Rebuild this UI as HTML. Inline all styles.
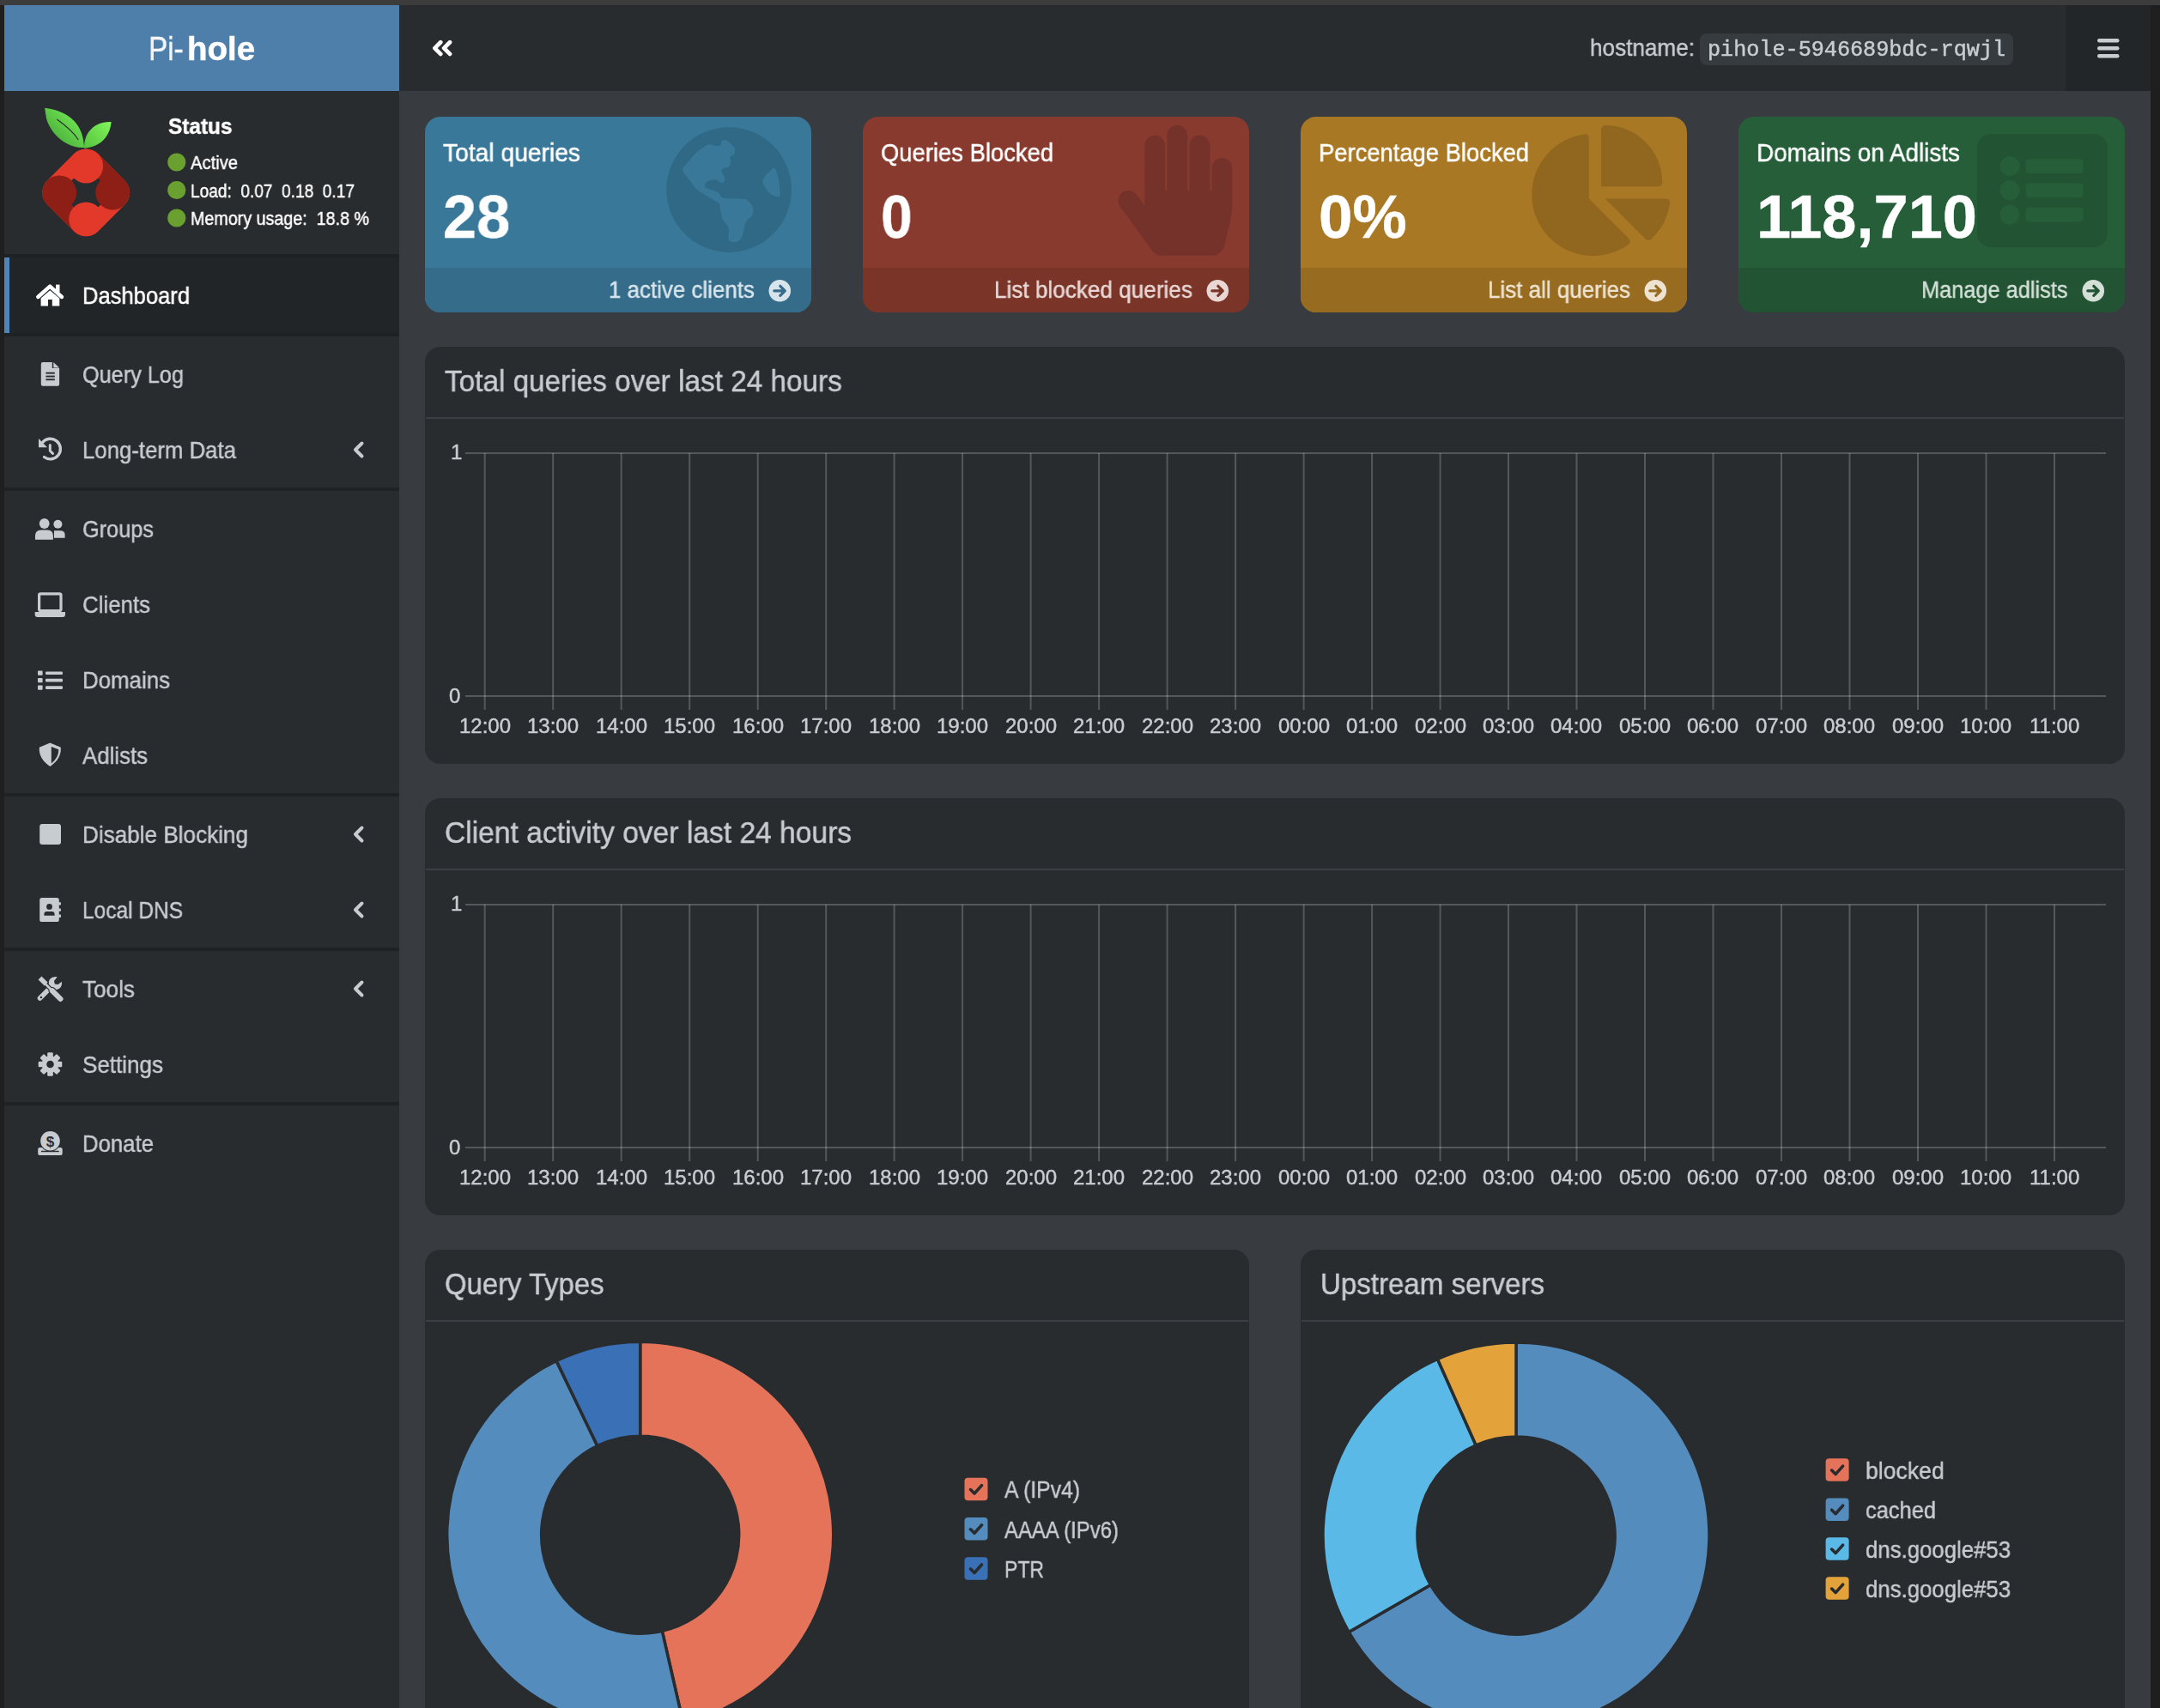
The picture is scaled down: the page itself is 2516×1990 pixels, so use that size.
<!DOCTYPE html>
<html><head><meta charset="utf-8"><title>Pi-hole Dashboard</title>
<style>
html,body{margin:0;padding:0;width:2516px;height:1990px;overflow:hidden;background:#383c40;}
.r{position:absolute;}
.t{position:absolute;z-index:2;line-height:1;white-space:nowrap;transform-origin:0 0;will-change:transform;-webkit-text-stroke:0.45px currentColor;}
svg.ov{position:absolute;left:0;top:0;z-index:1;}
</style></head><body>
<div class="r" style="left:0px;top:0px;width:2516px;height:6px;background:#3c3c3c;"></div>
<div class="r" style="left:0px;top:6px;width:5px;height:1984px;background:#1f1f1f;"></div>
<div class="r" style="left:2505px;top:6px;width:11px;height:1984px;background:#1e1e1e;"></div>
<div class="r" style="left:5px;top:6px;width:460px;height:100px;background:#4e7fab;"></div>
<div class="t" style="left:173.00px;top:38.41px;font-size:38.5px;font-weight:normal;color:rgba(255,255,255,0.93);transform:scaleX(0.8644);font-family:'Liberation Sans', sans-serif">Pi-</div>
<div class="t" style="left:217.50px;top:38.41px;font-size:38.5px;font-weight:bold;color:#fff;font-family:'Liberation Sans', sans-serif">hole</div>
<div class="r" style="left:465px;top:6px;width:2040px;height:100px;background:#282c2f;"></div>
<div class="r" style="left:2406px;top:6px;width:99px;height:100px;background:#232629;"></div>
<div class="t" style="left:1851.60px;top:42.30px;font-size:28px;font-weight:normal;color:#c8cdd1;transform:scaleX(0.9330);font-family:'Liberation Sans', sans-serif">hostname:</div>
<div class="r" style="left:1980px;top:39px;width:365px;height:37px;background:#363b40;border-radius:8px;"></div>
<div class="t" style="left:1989.00px;top:45.64px;font-size:25px;font-weight:normal;color:#c8cdd1;transform:scaleX(1.0058);font-family:'Liberation Mono', monospace">pihole-5946689bdc-rqwjl</div>
<div class="r" style="left:5px;top:106px;width:460px;height:1884px;background:#282c2f;"></div>
<div class="r" style="left:5px;top:296px;width:460px;height:4px;background:#1f2225;"></div>
<div class="t" style="left:195.50px;top:134.29px;font-size:26px;font-weight:bold;color:#fff;transform:scaleX(0.9379);font-family:'Liberation Sans', sans-serif">Status</div>
<div class="t" style="left:221.50px;top:179.38px;font-size:22px;font-weight:normal;color:#fff;transform:scaleX(0.9174);font-family:'Liberation Sans', sans-serif">Active</div>
<div class="t" style="left:221.50px;top:211.88px;font-size:22px;font-weight:normal;color:#fff;transform:scaleX(0.8673);font-family:'Liberation Sans', sans-serif">Load:&nbsp;&nbsp;0.07&nbsp;&nbsp;0.18&nbsp;&nbsp;0.17</div>
<div class="t" style="left:221.50px;top:244.38px;font-size:22px;font-weight:normal;color:#fff;transform:scaleX(0.8953);font-family:'Liberation Sans', sans-serif">Memory&nbsp;usage:&nbsp;&nbsp;18.8&nbsp;%</div>
<div class="r" style="left:5px;top:300px;width:460px;height:88px;background:#222528;"></div>
<div class="r" style="left:5px;top:300px;width:6px;height:88px;background:#4f86b9;"></div>
<div class="t" style="left:96.00px;top:330.90px;font-size:28px;font-weight:normal;color:#fff;transform:scaleX(0.9129);font-family:'Liberation Sans', sans-serif">Dashboard</div>
<div class="r" style="left:5px;top:388px;width:460px;height:4px;background:#1f2225;"></div>
<div class="t" style="left:96.00px;top:422.90px;font-size:28px;font-weight:normal;color:#c7ccd1;transform:scaleX(0.9024);font-family:'Liberation Sans', sans-serif">Query Log</div>
<div class="t" style="left:96.00px;top:510.90px;font-size:28px;font-weight:normal;color:#c7ccd1;transform:scaleX(0.9198);font-family:'Liberation Sans', sans-serif">Long-term Data</div>
<div class="r" style="left:5px;top:568px;width:460px;height:4px;background:#1f2225;"></div>
<div class="t" style="left:96.00px;top:602.90px;font-size:28px;font-weight:normal;color:#c7ccd1;transform:scaleX(0.9037);font-family:'Liberation Sans', sans-serif">Groups</div>
<div class="t" style="left:96.00px;top:690.90px;font-size:28px;font-weight:normal;color:#c7ccd1;transform:scaleX(0.9235);font-family:'Liberation Sans', sans-serif">Clients</div>
<div class="t" style="left:96.00px;top:778.90px;font-size:28px;font-weight:normal;color:#c7ccd1;transform:scaleX(0.9234);font-family:'Liberation Sans', sans-serif">Domains</div>
<div class="t" style="left:96.00px;top:866.90px;font-size:28px;font-weight:normal;color:#c7ccd1;transform:scaleX(0.9217);font-family:'Liberation Sans', sans-serif">Adlists</div>
<div class="r" style="left:5px;top:924px;width:460px;height:4px;background:#1f2225;"></div>
<div class="t" style="left:96.00px;top:958.90px;font-size:28px;font-weight:normal;color:#c7ccd1;transform:scaleX(0.9321);font-family:'Liberation Sans', sans-serif">Disable Blocking</div>
<div class="t" style="left:96.00px;top:1046.90px;font-size:28px;font-weight:normal;color:#c7ccd1;transform:scaleX(0.8742);font-family:'Liberation Sans', sans-serif">Local DNS</div>
<div class="r" style="left:5px;top:1104px;width:460px;height:4px;background:#1f2225;"></div>
<div class="t" style="left:96.00px;top:1138.90px;font-size:28px;font-weight:normal;color:#c7ccd1;transform:scaleX(0.9330);font-family:'Liberation Sans', sans-serif">Tools</div>
<div class="t" style="left:96.00px;top:1226.90px;font-size:28px;font-weight:normal;color:#c7ccd1;transform:scaleX(0.9287);font-family:'Liberation Sans', sans-serif">Settings</div>
<div class="r" style="left:5px;top:1284px;width:460px;height:4px;background:#1f2225;"></div>
<div class="t" style="left:96.00px;top:1318.90px;font-size:28px;font-weight:normal;color:#c7ccd1;transform:scaleX(0.9192);font-family:'Liberation Sans', sans-serif">Donate</div>
<div class="r" style="left:465px;top:106px;width:2040px;height:1884px;background:#383c40;"></div>
<div class="r" style="left:495px;top:136px;width:450px;height:228px;border-radius:18px;overflow:hidden;background:#3a7899"><div style="position:absolute;left:0;top:176px;width:450px;height:52px;background:#346c8a"></div></div>
<div class="t" style="left:516.00px;top:162.91px;font-size:30px;font-weight:normal;color:#fff;transform:scaleX(0.9406);font-family:'Liberation Sans', sans-serif">Total queries</div>
<div class="t" style="left:515.50px;top:217.40px;font-size:71px;font-weight:bold;color:#fff;transform:scaleX(0.9897);font-family:'Liberation Sans', sans-serif">28</div>
<div class="t" style="left:708.60px;top:325.14px;font-size:27px;font-weight:normal;color:#d8e4eb;transform:scaleX(0.9598);font-family:'Liberation Sans', sans-serif">1 active clients</div>
<div class="r" style="left:1005px;top:136px;width:450px;height:228px;border-radius:18px;overflow:hidden;background:#873a2d"><div style="position:absolute;left:0;top:176px;width:450px;height:52px;background:#7a3428"></div></div>
<div class="t" style="left:1026.00px;top:162.91px;font-size:30px;font-weight:normal;color:#fff;transform:scaleX(0.9134);font-family:'Liberation Sans', sans-serif">Queries Blocked</div>
<div class="t" style="left:1025.50px;top:217.40px;font-size:71px;font-weight:bold;color:#fff;transform:scaleX(0.9288);font-family:'Liberation Sans', sans-serif">0</div>
<div class="t" style="left:1157.60px;top:325.14px;font-size:27px;font-weight:normal;color:#e8d7d4;transform:scaleX(0.9678);font-family:'Liberation Sans', sans-serif">List blocked queries</div>
<div class="r" style="left:1515px;top:136px;width:450px;height:228px;border-radius:18px;overflow:hidden;background:#a87824"><div style="position:absolute;left:0;top:176px;width:450px;height:52px;background:#976c21"></div></div>
<div class="t" style="left:1536.00px;top:162.91px;font-size:30px;font-weight:normal;color:#fff;transform:scaleX(0.9125);font-family:'Liberation Sans', sans-serif">Percentage Blocked</div>
<div class="t" style="left:1535.50px;top:217.40px;font-size:71px;font-weight:bold;color:#fff;font-family:'Liberation Sans', sans-serif">0%</div>
<div class="t" style="left:1732.60px;top:325.14px;font-size:27px;font-weight:normal;color:#eee3d0;transform:scaleX(0.9622);font-family:'Liberation Sans', sans-serif">List all queries</div>
<div class="r" style="left:2025px;top:136px;width:450px;height:228px;border-radius:18px;overflow:hidden;background:#265e39"><div style="position:absolute;left:0;top:176px;width:450px;height:52px;background:#225433"></div></div>
<div class="t" style="left:2046.00px;top:162.91px;font-size:30px;font-weight:normal;color:#fff;transform:scaleX(0.9289);font-family:'Liberation Sans', sans-serif">Domains on Adlists</div>
<div class="t" style="left:2045.50px;top:217.40px;font-size:71px;font-weight:bold;color:#fff;transform:scaleX(1.0168);font-family:'Liberation Sans', sans-serif">118,710</div>
<div class="t" style="left:2238.00px;top:325.14px;font-size:27px;font-weight:normal;color:#d3dfd7;transform:scaleX(0.9396);font-family:'Liberation Sans', sans-serif">Manage adlists</div>
<div class="r" style="left:495px;top:404px;width:1980px;height:485.6px;border-radius:18px;background:#282c2f"></div>
<div class="t" style="left:518.00px;top:425.87px;font-size:35px;font-weight:normal;color:#c8cdd1;transform:scaleX(0.9514);font-family:'Liberation Sans', sans-serif">Total queries over last 24 hours</div>
<div class="r" style="left:496px;top:486px;width:1978px;height:2px;background:#3a3f44;"></div>
<div class="t" style="left:524.50px;top:515.28px;font-size:24px;font-weight:normal;color:#c8cdd1;font-family:'Liberation Sans', sans-serif">1</div>
<div class="t" style="left:523.00px;top:799.08px;font-size:24px;font-weight:normal;color:#c8cdd1;font-family:'Liberation Sans', sans-serif">0</div>
<div class="t" style="left:534.64px;top:834.38px;font-size:24px;font-weight:normal;color:#c8cdd1;font-family:'Liberation Sans', sans-serif">12:00</div>
<div class="t" style="left:614.13px;top:834.38px;font-size:24px;font-weight:normal;color:#c8cdd1;font-family:'Liberation Sans', sans-serif">13:00</div>
<div class="t" style="left:693.62px;top:834.38px;font-size:24px;font-weight:normal;color:#c8cdd1;font-family:'Liberation Sans', sans-serif">14:00</div>
<div class="t" style="left:773.11px;top:834.38px;font-size:24px;font-weight:normal;color:#c8cdd1;font-family:'Liberation Sans', sans-serif">15:00</div>
<div class="t" style="left:852.60px;top:834.38px;font-size:24px;font-weight:normal;color:#c8cdd1;font-family:'Liberation Sans', sans-serif">16:00</div>
<div class="t" style="left:932.09px;top:834.38px;font-size:24px;font-weight:normal;color:#c8cdd1;font-family:'Liberation Sans', sans-serif">17:00</div>
<div class="t" style="left:1011.58px;top:834.38px;font-size:24px;font-weight:normal;color:#c8cdd1;font-family:'Liberation Sans', sans-serif">18:00</div>
<div class="t" style="left:1091.07px;top:834.38px;font-size:24px;font-weight:normal;color:#c8cdd1;font-family:'Liberation Sans', sans-serif">19:00</div>
<div class="t" style="left:1170.56px;top:834.38px;font-size:24px;font-weight:normal;color:#c8cdd1;font-family:'Liberation Sans', sans-serif">20:00</div>
<div class="t" style="left:1250.05px;top:834.38px;font-size:24px;font-weight:normal;color:#c8cdd1;font-family:'Liberation Sans', sans-serif">21:00</div>
<div class="t" style="left:1329.54px;top:834.38px;font-size:24px;font-weight:normal;color:#c8cdd1;font-family:'Liberation Sans', sans-serif">22:00</div>
<div class="t" style="left:1409.03px;top:834.38px;font-size:24px;font-weight:normal;color:#c8cdd1;font-family:'Liberation Sans', sans-serif">23:00</div>
<div class="t" style="left:1488.52px;top:834.38px;font-size:24px;font-weight:normal;color:#c8cdd1;font-family:'Liberation Sans', sans-serif">00:00</div>
<div class="t" style="left:1568.01px;top:834.38px;font-size:24px;font-weight:normal;color:#c8cdd1;font-family:'Liberation Sans', sans-serif">01:00</div>
<div class="t" style="left:1647.50px;top:834.38px;font-size:24px;font-weight:normal;color:#c8cdd1;font-family:'Liberation Sans', sans-serif">02:00</div>
<div class="t" style="left:1726.99px;top:834.38px;font-size:24px;font-weight:normal;color:#c8cdd1;font-family:'Liberation Sans', sans-serif">03:00</div>
<div class="t" style="left:1806.48px;top:834.38px;font-size:24px;font-weight:normal;color:#c8cdd1;font-family:'Liberation Sans', sans-serif">04:00</div>
<div class="t" style="left:1885.97px;top:834.38px;font-size:24px;font-weight:normal;color:#c8cdd1;font-family:'Liberation Sans', sans-serif">05:00</div>
<div class="t" style="left:1965.46px;top:834.38px;font-size:24px;font-weight:normal;color:#c8cdd1;font-family:'Liberation Sans', sans-serif">06:00</div>
<div class="t" style="left:2044.95px;top:834.38px;font-size:24px;font-weight:normal;color:#c8cdd1;font-family:'Liberation Sans', sans-serif">07:00</div>
<div class="t" style="left:2124.44px;top:834.38px;font-size:24px;font-weight:normal;color:#c8cdd1;font-family:'Liberation Sans', sans-serif">08:00</div>
<div class="t" style="left:2203.93px;top:834.38px;font-size:24px;font-weight:normal;color:#c8cdd1;font-family:'Liberation Sans', sans-serif">09:00</div>
<div class="t" style="left:2283.42px;top:834.38px;font-size:24px;font-weight:normal;color:#c8cdd1;font-family:'Liberation Sans', sans-serif">10:00</div>
<div class="t" style="left:2363.81px;top:834.38px;font-size:24px;font-weight:normal;color:#c8cdd1;font-family:'Liberation Sans', sans-serif">11:00</div>
<div class="r" style="left:495px;top:930px;width:1980px;height:485.6px;border-radius:18px;background:#282c2f"></div>
<div class="t" style="left:518.00px;top:951.87px;font-size:35px;font-weight:normal;color:#c8cdd1;transform:scaleX(0.9595);font-family:'Liberation Sans', sans-serif">Client activity over last 24 hours</div>
<div class="r" style="left:496px;top:1012px;width:1978px;height:2px;background:#3a3f44;"></div>
<div class="t" style="left:524.50px;top:1041.28px;font-size:24px;font-weight:normal;color:#c8cdd1;font-family:'Liberation Sans', sans-serif">1</div>
<div class="t" style="left:523.00px;top:1325.08px;font-size:24px;font-weight:normal;color:#c8cdd1;font-family:'Liberation Sans', sans-serif">0</div>
<div class="t" style="left:534.64px;top:1360.38px;font-size:24px;font-weight:normal;color:#c8cdd1;font-family:'Liberation Sans', sans-serif">12:00</div>
<div class="t" style="left:614.13px;top:1360.38px;font-size:24px;font-weight:normal;color:#c8cdd1;font-family:'Liberation Sans', sans-serif">13:00</div>
<div class="t" style="left:693.62px;top:1360.38px;font-size:24px;font-weight:normal;color:#c8cdd1;font-family:'Liberation Sans', sans-serif">14:00</div>
<div class="t" style="left:773.11px;top:1360.38px;font-size:24px;font-weight:normal;color:#c8cdd1;font-family:'Liberation Sans', sans-serif">15:00</div>
<div class="t" style="left:852.60px;top:1360.38px;font-size:24px;font-weight:normal;color:#c8cdd1;font-family:'Liberation Sans', sans-serif">16:00</div>
<div class="t" style="left:932.09px;top:1360.38px;font-size:24px;font-weight:normal;color:#c8cdd1;font-family:'Liberation Sans', sans-serif">17:00</div>
<div class="t" style="left:1011.58px;top:1360.38px;font-size:24px;font-weight:normal;color:#c8cdd1;font-family:'Liberation Sans', sans-serif">18:00</div>
<div class="t" style="left:1091.07px;top:1360.38px;font-size:24px;font-weight:normal;color:#c8cdd1;font-family:'Liberation Sans', sans-serif">19:00</div>
<div class="t" style="left:1170.56px;top:1360.38px;font-size:24px;font-weight:normal;color:#c8cdd1;font-family:'Liberation Sans', sans-serif">20:00</div>
<div class="t" style="left:1250.05px;top:1360.38px;font-size:24px;font-weight:normal;color:#c8cdd1;font-family:'Liberation Sans', sans-serif">21:00</div>
<div class="t" style="left:1329.54px;top:1360.38px;font-size:24px;font-weight:normal;color:#c8cdd1;font-family:'Liberation Sans', sans-serif">22:00</div>
<div class="t" style="left:1409.03px;top:1360.38px;font-size:24px;font-weight:normal;color:#c8cdd1;font-family:'Liberation Sans', sans-serif">23:00</div>
<div class="t" style="left:1488.52px;top:1360.38px;font-size:24px;font-weight:normal;color:#c8cdd1;font-family:'Liberation Sans', sans-serif">00:00</div>
<div class="t" style="left:1568.01px;top:1360.38px;font-size:24px;font-weight:normal;color:#c8cdd1;font-family:'Liberation Sans', sans-serif">01:00</div>
<div class="t" style="left:1647.50px;top:1360.38px;font-size:24px;font-weight:normal;color:#c8cdd1;font-family:'Liberation Sans', sans-serif">02:00</div>
<div class="t" style="left:1726.99px;top:1360.38px;font-size:24px;font-weight:normal;color:#c8cdd1;font-family:'Liberation Sans', sans-serif">03:00</div>
<div class="t" style="left:1806.48px;top:1360.38px;font-size:24px;font-weight:normal;color:#c8cdd1;font-family:'Liberation Sans', sans-serif">04:00</div>
<div class="t" style="left:1885.97px;top:1360.38px;font-size:24px;font-weight:normal;color:#c8cdd1;font-family:'Liberation Sans', sans-serif">05:00</div>
<div class="t" style="left:1965.46px;top:1360.38px;font-size:24px;font-weight:normal;color:#c8cdd1;font-family:'Liberation Sans', sans-serif">06:00</div>
<div class="t" style="left:2044.95px;top:1360.38px;font-size:24px;font-weight:normal;color:#c8cdd1;font-family:'Liberation Sans', sans-serif">07:00</div>
<div class="t" style="left:2124.44px;top:1360.38px;font-size:24px;font-weight:normal;color:#c8cdd1;font-family:'Liberation Sans', sans-serif">08:00</div>
<div class="t" style="left:2203.93px;top:1360.38px;font-size:24px;font-weight:normal;color:#c8cdd1;font-family:'Liberation Sans', sans-serif">09:00</div>
<div class="t" style="left:2283.42px;top:1360.38px;font-size:24px;font-weight:normal;color:#c8cdd1;font-family:'Liberation Sans', sans-serif">10:00</div>
<div class="t" style="left:2363.81px;top:1360.38px;font-size:24px;font-weight:normal;color:#c8cdd1;font-family:'Liberation Sans', sans-serif">11:00</div>
<div class="r" style="left:495px;top:1456px;width:960px;height:600px;border-radius:18px;background:#282c2f"></div>
<div class="t" style="left:518.00px;top:1477.87px;font-size:35px;font-weight:normal;color:#c8cdd1;transform:scaleX(0.9386);font-family:'Liberation Sans', sans-serif">Query Types</div>
<div class="r" style="left:496px;top:1538px;width:958px;height:2px;background:#3a3f44;"></div>
<div class="r" style="left:1515px;top:1456px;width:960px;height:600px;border-radius:18px;background:#282c2f"></div>
<div class="t" style="left:1537.50px;top:1477.87px;font-size:35px;font-weight:normal;color:#c8cdd1;transform:scaleX(0.9451);font-family:'Liberation Sans', sans-serif">Upstream servers</div>
<div class="r" style="left:1516px;top:1538px;width:958px;height:2px;background:#3a3f44;"></div>
<div class="t" style="left:1169.80px;top:1722.30px;font-size:28px;font-weight:normal;color:#c8cdd1;transform:scaleX(0.8841);font-family:'Liberation Sans', sans-serif">A (IPv4)</div>
<div class="t" style="left:1169.80px;top:1768.50px;font-size:28px;font-weight:normal;color:#c8cdd1;transform:scaleX(0.8543);font-family:'Liberation Sans', sans-serif">AAAA (IPv6)</div>
<div class="t" style="left:1169.80px;top:1814.70px;font-size:28px;font-weight:normal;color:#c8cdd1;transform:scaleX(0.8214);font-family:'Liberation Sans', sans-serif">PTR</div>
<div class="t" style="left:2172.90px;top:1699.80px;font-size:28px;font-weight:normal;color:#c8cdd1;transform:scaleX(0.9507);font-family:'Liberation Sans', sans-serif">blocked</div>
<div class="t" style="left:2172.90px;top:1745.90px;font-size:28px;font-weight:normal;color:#c8cdd1;transform:scaleX(0.9081);font-family:'Liberation Sans', sans-serif">cached</div>
<div class="t" style="left:2172.90px;top:1791.80px;font-size:28px;font-weight:normal;color:#c8cdd1;transform:scaleX(0.9201);font-family:'Liberation Sans', sans-serif">dns.google#53</div>
<div class="t" style="left:2172.90px;top:1837.80px;font-size:28px;font-weight:normal;color:#c8cdd1;transform:scaleX(0.9201);font-family:'Liberation Sans', sans-serif">dns.google#53</div>
<svg class="ov" width="2516" height="1990" viewBox="0 0 2516 1990">
<path d="M513.2,49.3 L506.4,56.1 L513.2,62.9 M524,49.3 L517.2,56.1 L524,62.9" stroke="#fff" stroke-width="4.8" fill="none" stroke-linecap="round" stroke-linejoin="round"/>
<rect x="2443" y="45" width="25.5" height="4.4" rx="2.2" fill="#c8cdd2"/>
<rect x="2443" y="54" width="25.5" height="4.4" rx="2.2" fill="#c8cdd2"/>
<rect x="2443" y="63" width="25.5" height="4.4" rx="2.2" fill="#c8cdd2"/>
<defs><linearGradient id="lg" x1="0" y1="1" x2="1" y2="0"><stop offset="0" stop-color="#3f9e34"/><stop offset="1" stop-color="#7cf55a"/></linearGradient></defs>
<path d="M52.1,125.8 C64.8,127.4 77.4,131.5 86.9,141.6 C94.3,150 97.5,160 98,172 C91,172.4 84,170.5 77.4,166.9 C66,161 57.4,150 54,138 Z" fill="url(#lg)"/>
<path d="M66.4,139 C76,146 86,154 91.3,163" stroke="#282c2f" stroke-width="1.1" fill="none"/>
<path d="M129.6,142.1 C119.6,141.5 110.1,145 103.5,153.5 C99.5,159 98,165 98,172.7 C108,172 116.5,168.5 122.8,160.6 C127,155 129,149 129.6,142.1 Z" fill="url(#lg2)"/>
<defs><linearGradient id="lg2" x1="0" y1="1" x2="1" y2="0"><stop offset="0" stop-color="#56c23e"/><stop offset="1" stop-color="#80f65a"/></linearGradient><clipPath id="dia"><rect x="-41.9" y="-41.9" width="83.8" height="83.8" rx="20" transform="rotate(45)"/></clipPath></defs>
<g transform="translate(100.2,224.4)"><g clip-path="url(#dia)"><rect x="-60" y="-60" width="120" height="120" fill="#e2392a"/><path d="M0,-70 L70,0 L0,0 Z" fill="#8e1f17"/><path d="M0,70 L-70,0 L0,0 Z" fill="#8e1f17"/><path d="M0,-31 L31,0 L0,31 L-31,0 Z" fill="#282c2f"/><circle cx="0" cy="-31" r="20" fill="#e2392a"/><circle cx="31" cy="0" r="20" fill="#8e1f17"/><circle cx="0" cy="31" r="20" fill="#e2392a"/><circle cx="-31" cy="0" r="20" fill="#8e1f17"/></g></g>
<circle cx="205.8" cy="189.0" r="10.6" fill="#6aa030"/>
<circle cx="205.8" cy="221.5" r="10.6" fill="#6aa030"/>
<circle cx="205.8" cy="254.0" r="10.6" fill="#6aa030"/>
<path d="M421.5,516.5 L414,524 L421.5,531.5" stroke="#c7ccd1" stroke-width="4" fill="none" stroke-linecap="round" stroke-linejoin="round"/>
<path d="M421.5,964.5 L414,972 L421.5,979.5" stroke="#c7ccd1" stroke-width="4" fill="none" stroke-linecap="round" stroke-linejoin="round"/>
<path d="M421.5,1052.5 L414,1060 L421.5,1067.5" stroke="#c7ccd1" stroke-width="4" fill="none" stroke-linecap="round" stroke-linejoin="round"/>
<path d="M421.5,1144.5 L414,1152 L421.5,1159.5" stroke="#c7ccd1" stroke-width="4" fill="none" stroke-linecap="round" stroke-linejoin="round"/>
<path d="M44.3,346 L58.2,333.6 L72,346" stroke="#fff" stroke-width="4.4" fill="none" stroke-linecap="round" stroke-linejoin="round"/>
<rect x="65" y="331.6" width="4.5" height="9" fill="#fff"/>
<path d="M47.6,347.5 L58.2,338.2 L69.3,347.5 L69.3,356.4 L60.8,356.4 L60.8,349 L56,349 L56,356.4 L47.6,356.4 Z" fill="#fff"/>
<path d="M47.8,424 Q47.8,422 49.8,422 L60.8,422 L60.8,429 L69.1,429 L69.1,447.8 Q69.1,449.8 67.1,449.8 L49.8,449.8 Q47.8,449.8 47.8,447.8 Z" fill="#c7ccd1"/>
<path d="M62.3,422 L69.1,428.4 L62.3,428.4 Z" fill="#c7ccd1"/>
<rect x="53.4" y="433.7" width="10.4" height="1.9" fill="#282c2f"/>
<rect x="53.4" y="437.6" width="10.4" height="1.9" fill="#282c2f"/>
<rect x="53.4" y="441.3" width="10.4" height="1.9" fill="#282c2f"/>
<path d="M49.5,515.5 A11.8,11.8 0 1 1 51.5,532.5" stroke="#c7ccd1" stroke-width="3.4" fill="none" stroke-linecap="round"/>
<path d="M45,511 L45,521.3 L55,521.3 Z" fill="#c7ccd1"/>
<path d="M58.3,518.5 L58.3,525.2 L61.5,528.4" stroke="#c7ccd1" stroke-width="3" fill="none" stroke-linecap="round" stroke-linejoin="round"/>
<circle cx="51.7" cy="610" r="5.9" fill="#c7ccd1"/><path d="M41,628.7 L41,624 Q41,617.4 48,617.4 L55,617.4 Q61.9,617.4 61.9,624 L61.9,628.7 Z" fill="#c7ccd1"/>
<circle cx="67.4" cy="610.8" r="5" fill="#c7ccd1"/><path d="M63,626.7 L63,618.3 L70,618.3 Q75.6,618.3 75.6,623 L75.6,626.7 Z" fill="#c7ccd1"/>
<rect x="45.6" y="691.9" width="25.4" height="19.6" rx="1.5" stroke="#c7ccd1" stroke-width="3.2" fill="none"/>
<path d="M40.7,713 L76,713 L76,716 Q76,718.9 73,718.9 L43.7,718.9 Q40.7,718.9 40.7,716 Z" fill="#c7ccd1"/>
<rect x="44" y="781.6" width="5.6" height="5.2" rx="0.8" fill="#c7ccd1"/><rect x="53" y="782.4000000000001" width="20" height="3.6" rx="1.2" fill="#c7ccd1"/>
<rect x="44" y="790.0" width="5.6" height="5.2" rx="0.8" fill="#c7ccd1"/><rect x="53" y="790.8000000000001" width="20" height="3.6" rx="1.2" fill="#c7ccd1"/>
<rect x="44" y="798.5" width="5.6" height="5.2" rx="0.8" fill="#c7ccd1"/><rect x="53" y="799.3000000000001" width="20" height="3.6" rx="1.2" fill="#c7ccd1"/>
<path d="M58.3,865.6 L70.8,870.8 Q71.8,884 58.3,893 Q44.8,884 45.8,870.8 Z" fill="#c7ccd1"/>
<path d="M59.8,870 L68.3,873.3 Q68.3,883 59.8,889.5 Z" fill="#282c2f"/>
<rect x="46.2" y="960" width="24.8" height="24.1" rx="3" fill="#c7ccd1"/>
<rect x="46.2" y="1046" width="22.6" height="28" rx="2.6" fill="#c7ccd1"/>
<rect x="67" y="1051.2" width="4" height="3.4" rx="0.8" fill="#c7ccd1"/>
<rect x="67" y="1058.4" width="4" height="3.4" rx="0.8" fill="#c7ccd1"/>
<rect x="67" y="1065.4" width="4" height="3.6" rx="0.8" fill="#c7ccd1"/>
<circle cx="57.5" cy="1056.4" r="3.4" fill="#282c2f"/><path d="M51.4,1066.8 L51.4,1065 Q51.4,1062 54.5,1062 L60.5,1062 Q63.6,1062 63.6,1065 L63.6,1066.8 Z" fill="#282c2f"/>
<path d="M56.6,1146 C56.6,1142 58.5,1139.8 61,1138.8 C63,1138 65,1138 66.6,1138.2 L63,1142.9 L63.8,1146.5 L67.6,1147 L72,1143.7 C72.3,1147 71.5,1149.5 70,1151.1 C68.5,1152.5 67.5,1152.7 66.9,1152.7 L60,1155 Z" fill="#c7ccd1"/>
<path d="M46.5,1163 L61,1148.5" stroke="#c7ccd1" stroke-width="5.6" stroke-linecap="round"/>
<circle cx="47.9" cy="1162" r="1.2" fill="#282c2f"/>
<path d="M44.6,1141.4 L48.4,1137.6 L55.6,1144.6 L51.8,1148.4 Z" fill="#282c2f" stroke="#282c2f" stroke-width="2.4"/>
<path d="M53,1146.5 L60.5,1154" stroke="#282c2f" stroke-width="5"/>
<path d="M60.8,1154.3 L70.4,1163.9" stroke="#282c2f" stroke-width="8.6" stroke-linecap="round"/>
<path d="M44.6,1141.4 L48.4,1137.6 L55.6,1144.6 L51.8,1148.4 Z" fill="#c7ccd1"/>
<path d="M53,1146.5 L60.5,1154" stroke="#c7ccd1" stroke-width="2.6"/>
<path d="M60.8,1154.3 L70.4,1163.9" stroke="#c7ccd1" stroke-width="6.2" stroke-linecap="round"/>
<rect x="55.2" y="1226.2" width="6.6" height="7" rx="1.2" fill="#c7ccd1" transform="rotate(0 58.5 1240)"/><rect x="55.2" y="1226.2" width="6.6" height="7" rx="1.2" fill="#c7ccd1" transform="rotate(45 58.5 1240)"/><rect x="55.2" y="1226.2" width="6.6" height="7" rx="1.2" fill="#c7ccd1" transform="rotate(90 58.5 1240)"/><rect x="55.2" y="1226.2" width="6.6" height="7" rx="1.2" fill="#c7ccd1" transform="rotate(135 58.5 1240)"/><rect x="55.2" y="1226.2" width="6.6" height="7" rx="1.2" fill="#c7ccd1" transform="rotate(180 58.5 1240)"/><rect x="55.2" y="1226.2" width="6.6" height="7" rx="1.2" fill="#c7ccd1" transform="rotate(225 58.5 1240)"/><rect x="55.2" y="1226.2" width="6.6" height="7" rx="1.2" fill="#c7ccd1" transform="rotate(270 58.5 1240)"/><rect x="55.2" y="1226.2" width="6.6" height="7" rx="1.2" fill="#c7ccd1" transform="rotate(315 58.5 1240)"/>
<circle cx="58.5" cy="1240" r="9.8" fill="#c7ccd1"/><circle cx="58.5" cy="1240" r="4.3" fill="#282c2f"/>
<path d="M44.2,1339 Q44.2,1337 46.2,1337 L70.7,1337 Q72.7,1337 72.7,1339 L72.7,1344 Q72.7,1346 70.7,1346 L46.2,1346 Q44.2,1346 44.2,1344 Z" fill="#c7ccd1"/>
<rect x="48" y="1340.8" width="20.7" height="1.4" fill="#282c2f"/>
<circle cx="58.5" cy="1329.2" r="12.3" fill="#282c2f"/><circle cx="58.5" cy="1329.2" r="11.3" fill="#c7ccd1"/>
<text x="58.5" y="1336" font-family="Liberation Sans" font-weight="bold" font-size="17" text-anchor="middle" fill="#282c2f">$</text>
<circle cx="908.3" cy="338.8" r="12.8" fill="#d8e4eb"/><path d="M901.8,338.8 L913.8,338.8 M908.8,333.3 L914.3,338.8 L908.8,344.3" stroke="#346c8a" stroke-width="3.2" fill="none" stroke-linecap="round" stroke-linejoin="round"/>
<circle cx="849.1" cy="221.1" r="72.8" fill="#2f6986"/>
<path d="M794.98,197.50 C795.13,195.04 798.21,193.03 800.53,190.10 C802.84,187.17 805.92,182.86 808.85,179.93 C811.78,177.00 815.33,174.45 818.10,172.53 C820.88,170.60 822.73,168.75 825.50,168.36 C828.28,167.98 832.44,170.14 834.75,170.21 C837.07,170.29 838.46,169.83 839.38,168.83 C840.31,167.82 839.23,165.13 840.31,164.20 C841.38,163.28 844.16,162.81 845.86,163.28 C847.55,163.74 848.79,165.28 850.48,166.98 C852.18,168.67 855.26,171.29 856.03,173.45 C856.80,175.61 856.03,178.39 855.11,179.93 C854.18,181.47 851.10,181.32 850.48,182.70 C849.86,184.09 851.56,186.40 851.41,188.25 C851.25,190.10 851.10,192.42 849.56,193.80 C848.01,195.19 843.70,195.65 842.16,196.58 C840.61,197.50 840.00,197.66 840.31,199.35 C840.61,201.05 843.54,204.60 844.01,206.75 C844.47,208.91 844.01,211.38 843.08,212.31 C842.16,213.23 840.00,212.77 838.46,212.31 C836.91,211.84 835.99,209.84 833.83,209.53 C831.67,209.22 827.66,209.53 825.50,210.46 C823.35,211.38 821.19,213.54 820.88,215.08 C820.57,216.62 821.65,218.47 823.65,219.71 C825.66,220.94 830.59,221.56 832.90,222.48 C835.22,223.41 835.83,223.87 837.53,225.26 C839.23,226.64 838.30,229.73 843.08,230.81 C847.86,231.89 861.27,230.96 866.21,231.73 C871.14,232.50 870.83,233.58 872.68,235.43 C874.53,237.28 876.85,240.06 877.31,242.83 C877.77,245.61 876.85,249.46 875.46,252.08 C874.07,254.70 871.14,254.09 868.98,258.56 C866.82,263.03 865.74,275.21 862.51,278.91 C859.27,282.61 851.87,282.92 849.56,280.76 C847.24,278.60 849.86,270.12 848.63,265.96 C847.40,261.80 843.70,258.87 842.16,255.78 C840.61,252.70 840.00,250.39 839.38,247.46 C838.76,244.53 839.38,240.37 838.46,238.21 C837.53,236.05 836.14,236.05 833.83,234.51 C831.52,232.97 828.28,231.27 824.58,228.96 C820.88,226.64 814.87,223.41 811.63,220.63 C808.39,217.86 807.16,214.93 805.15,212.31 C803.15,209.68 801.30,207.37 799.60,204.90 C797.91,202.44 794.82,199.97 794.98,197.50 Z" fill="#3a7899"/>
<path d="M902.28,196.12 C903.98,197.66 905.91,204.52 906.91,208.60 C907.91,212.69 908.14,217.24 908.30,220.63 C908.45,224.02 909.61,228.03 907.84,228.96 C906.06,229.88 900.28,227.72 897.66,226.18 C895.04,224.64 893.65,222.02 892.11,219.71 C890.57,217.39 888.72,214.46 888.41,212.31 C888.10,210.15 888.87,208.91 890.26,206.75 C891.65,204.60 894.73,201.13 896.73,199.35 C898.74,197.58 900.59,194.57 902.28,196.12 Z" fill="#3a7899"/>
<circle cx="1418.3" cy="338.8" r="12.8" fill="#e8d7d4"/><path d="M1411.8,338.8 L1423.8,338.8 M1418.8,333.3 L1424.3,338.8 L1418.8,344.3" stroke="#7a3428" stroke-width="3.2" fill="none" stroke-linecap="round" stroke-linejoin="round"/>
<path transform="translate(1302.5,146) scale(0.29648)" fill="#74322a" d="M408.781 128.007C386.356 127.578 368 146.36 368 168.79V256h-8V79.79c0-22.43-18.356-41.212-40.781-40.783C297.488 39.423 280 57.169 280 79v177h-8V40.79C272 18.36 253.644-.422 231.219.007 209.488.423 192 18.169 192 40v216h-8V80.79c0-22.43-18.356-41.212-40.781-40.783C121.488 40.423 104 58.169 104 80v235.992l-31.648-43.519c-12.993-17.866-38.009-21.817-55.877-8.823-17.865 12.994-21.815 38.01-8.822 55.877l125.601 172.705A48 48 0 0 0 172.073 512h197.59c22.274 0 41.622-15.324 46.724-37.006l26.508-112.66a192.011 192.011 0 0 0 5.104-43.975V168c.001-21.831-17.487-39.577-39.218-39.993z"/>
<circle cx="1928.3" cy="338.8" r="12.8" fill="#eee3d0"/><path d="M1921.8,338.8 L1933.8,338.8 M1928.8,333.3 L1934.3,338.8 L1928.8,344.3" stroke="#976c21" stroke-width="3.2" fill="none" stroke-linecap="round" stroke-linejoin="round"/>
<path transform="translate(1774.80,146) scale(0.29688)" fill="#91661f" d="M304 240V16.6c0-9 7-16.6 16-16.6C443.7 0 544 100.3 544 224c0 9-7.6 16-16.6 16H304zM32 272C32 150.7 122.1 50.3 239 34.3c9.2-1.3 17 6.1 17 15.4V288L412.5 444.5c6.7 6.7 6.2 17.7-1.5 23.1C371.8 495.6 323.8 512 272 512C139.5 512 32 404.6 32 272zm526.4 16c9.3 0 16.6 7.8 15.4 17c-7.7 55.9-34.6 105.6-73.9 142.3c-6 5.6-15.4 5.2-21.2-.7L320 288H558.4z"/>
<circle cx="2438.3" cy="338.8" r="12.8" fill="#d3dfd7"/><path d="M2431.8,338.8 L2443.8,338.8 M2438.8,333.3 L2444.3,338.8 L2438.8,344.3" stroke="#225433" stroke-width="3.2" fill="none" stroke-linecap="round" stroke-linejoin="round"/>
<rect x="2303" y="156" width="152" height="132" rx="16" fill="#225332"/>
<circle cx="2341" cy="193.6" r="11.6" fill="#265e39"/><rect x="2359.5" y="185.29999999999998" width="67.2" height="16.6" rx="4" fill="#265e39"/>
<circle cx="2341" cy="221.9" r="11.6" fill="#265e39"/><rect x="2359.5" y="213.6" width="67.2" height="16.6" rx="4" fill="#265e39"/>
<circle cx="2341" cy="250.1" r="11.6" fill="#265e39"/><rect x="2359.5" y="241.79999999999998" width="67.2" height="16.6" rx="4" fill="#265e39"/>
<path d="M542,528 H2453 M542,811 H2453" stroke="rgba(255,255,255,0.21)" stroke-width="2"/>
<path d="M564.7,528 V827 M644.2,528 V827 M723.7,528 V827 M803.2,528 V827 M882.7,528 V827 M962.2,528 V827 M1041.6,528 V827 M1121.1,528 V827 M1200.6,528 V827 M1280.1,528 V827 M1359.6,528 V827 M1439.1,528 V827 M1518.6,528 V827 M1598.1,528 V827 M1677.6,528 V827 M1757.0,528 V827 M1836.5,528 V827 M1916.0,528 V827 M1995.5,528 V827 M2075.0,528 V827 M2154.5,528 V827 M2234.0,528 V827 M2313.5,528 V827 M2393.0,528 V827 " stroke="rgba(255,255,255,0.21)" stroke-width="2"/>
<path d="M542,1054 H2453 M542,1337 H2453" stroke="rgba(255,255,255,0.21)" stroke-width="2"/>
<path d="M564.7,1054 V1353 M644.2,1054 V1353 M723.7,1054 V1353 M803.2,1054 V1353 M882.7,1054 V1353 M962.2,1054 V1353 M1041.6,1054 V1353 M1121.1,1054 V1353 M1200.6,1054 V1353 M1280.1,1054 V1353 M1359.6,1054 V1353 M1439.1,1054 V1353 M1518.6,1054 V1353 M1598.1,1054 V1353 M1677.6,1054 V1353 M1757.0,1054 V1353 M1836.5,1054 V1353 M1916.0,1054 V1353 M1995.5,1054 V1353 M2075.0,1054 V1353 M2154.5,1054 V1353 M2234.0,1054 V1353 M2313.5,1054 V1353 M2393.0,1054 V1353 " stroke="rgba(255,255,255,0.21)" stroke-width="2"/>
<path d="M745.70,1563.20 A225,225 0 0 1 795.78,2007.56 L771.30,1900.32 A115,115 0 0 0 745.70,1673.20 Z" fill="#e5735a" stroke="#282c2f" stroke-width="3.5" stroke-linejoin="miter"/><path d="M795.78,2007.56 A225,225 0 0 1 648.09,1585.47 L695.81,1684.58 A115,115 0 0 0 771.30,1900.32 Z" fill="#558cbe" stroke="#282c2f" stroke-width="3.5" stroke-linejoin="miter"/><path d="M648.09,1585.47 A225,225 0 0 1 745.70,1563.20 L745.70,1673.20 A115,115 0 0 0 695.81,1684.58 Z" fill="#3a71b6" stroke="#282c2f" stroke-width="3.5" stroke-linejoin="miter"/>
<path d="M1766.00,1564.00 A225,225 0 1 1 1571.14,1901.50 L1666.41,1846.50 A115,115 0 1 0 1766.00,1674.00 Z" fill="#558cbe" stroke="#282c2f" stroke-width="3.5" stroke-linejoin="miter"/><path d="M1571.14,1901.50 A225,225 0 0 1 1674.48,1583.45 L1719.23,1683.94 A115,115 0 0 0 1666.41,1846.50 Z" fill="#5bb9e8" stroke="#282c2f" stroke-width="3.5" stroke-linejoin="miter"/><path d="M1674.48,1583.45 A225,225 0 0 1 1766.00,1564.00 L1766.00,1674.00 A115,115 0 0 0 1719.23,1683.94 Z" fill="#e4a23a" stroke="#282c2f" stroke-width="3.5" stroke-linejoin="miter"/>
<rect x="1123.5" y="1721.8" width="27" height="26.5" rx="4" fill="#e5735a"/>
<path d="M1130.5,1735.6 L1135.0,1740.1 L1143.5,1730.6" stroke="#282c2f" stroke-width="3.6" fill="none" stroke-linecap="round" stroke-linejoin="round"/>
<rect x="1123.5" y="1768" width="27" height="26.5" rx="4" fill="#558cbe"/>
<path d="M1130.5,1781.8 L1135.0,1786.3 L1143.5,1776.8" stroke="#282c2f" stroke-width="3.6" fill="none" stroke-linecap="round" stroke-linejoin="round"/>
<rect x="1123.5" y="1814.2" width="27" height="26.5" rx="4" fill="#3a71b6"/>
<path d="M1130.5,1828.0 L1135.0,1832.5 L1143.5,1823.0" stroke="#282c2f" stroke-width="3.6" fill="none" stroke-linecap="round" stroke-linejoin="round"/>
<rect x="2126.6" y="1699.3" width="27" height="26.5" rx="4" fill="#e5735a"/>
<path d="M2133.6,1713.1 L2138.1,1717.6 L2146.6,1708.1" stroke="#282c2f" stroke-width="3.6" fill="none" stroke-linecap="round" stroke-linejoin="round"/>
<rect x="2126.6" y="1745.4" width="27" height="26.5" rx="4" fill="#558cbe"/>
<path d="M2133.6,1759.2 L2138.1,1763.7 L2146.6,1754.2" stroke="#282c2f" stroke-width="3.6" fill="none" stroke-linecap="round" stroke-linejoin="round"/>
<rect x="2126.6" y="1791.3" width="27" height="26.5" rx="4" fill="#5bb9e8"/>
<path d="M2133.6,1805.1 L2138.1,1809.6 L2146.6,1800.1" stroke="#282c2f" stroke-width="3.6" fill="none" stroke-linecap="round" stroke-linejoin="round"/>
<rect x="2126.6" y="1837.3" width="27" height="26.5" rx="4" fill="#e4a23a"/>
<path d="M2133.6,1851.1 L2138.1,1855.6 L2146.6,1846.1" stroke="#282c2f" stroke-width="3.6" fill="none" stroke-linecap="round" stroke-linejoin="round"/>
</svg>
</body></html>
